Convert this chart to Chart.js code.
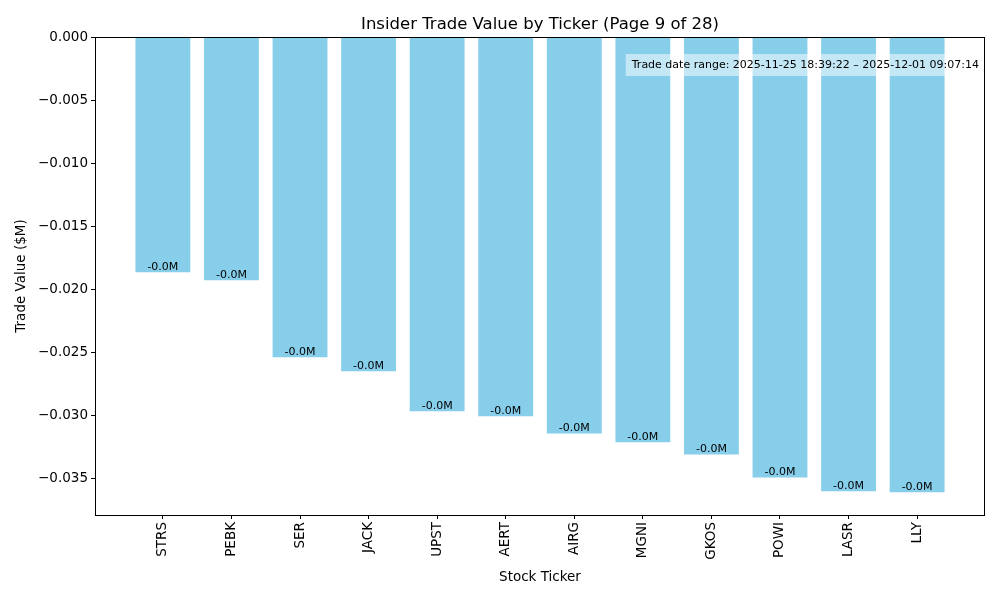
<!DOCTYPE html>
<html>
<head>
<meta charset="utf-8">
<script src="https://cdn.jsdelivr.net/npm/chart.js@4.4.0/dist/chart.umd.min.js"></script>
<style>
  html, body { margin: 0; padding: 0; background: #ffffff; }
  #wrap { width: 1000px; height: 600px; }
</style>
</head>
<body>
<div id="wrap"><canvas id="c" width="1000" height="600"></canvas></div>
<script>
const tickers = ["STRS", "PEBK", "SER", "JACK", "UPST", "AERT", "AIRG", "MGNI", "GKOS", "POWI", "LASR", "LLY"];
const tradeValues = [-0.01865, -0.01929, -0.02540, -0.02650, -0.02968, -0.03008, -0.03143, -0.03214, -0.03310, -0.03492, -0.03601, -0.03609];
const yTicks = [0, -0.005, -0.010, -0.015, -0.020, -0.025, -0.030, -0.035];
const titleText = "Insider Trade Value by Ticker (Page 9 of 28)";
const xLabel = "Stock Ticker";
const yLabel = "Trade Value ($M)";
const rangeText = "Trade date range: 2025-11-25 18:39:22 \u2013 2025-12-01 09:07:14";

const FONT = "'DejaVu Sans', sans-serif";

const decorPlugin = {
  id: 'decor',
  afterDatasetsDraw(chart) {
    const ctx = chart.ctx;
    const a = chart.chartArea;
    const meta = chart.getDatasetMeta(0);
    ctx.save();
    // value labels
    ctx.fillStyle = '#000';
    ctx.font = "11px " + FONT;
    ctx.textAlign = 'center';
    ctx.textBaseline = 'alphabetic';
    meta.data.forEach((bar, i) => {
      const v = tradeValues[i];
      const txt = v.toFixed(1) + 'M';
      ctx.fillText(txt, bar.x, bar.y - 2);
    });
    // annotation box
    ctx.font = "11px " + FONT;
    const tw = ctx.measureText(rangeText).width;
    const boxR = a.right - 1;
    const boxL = boxR - tw - 11;
    const boxT = 54, boxB = 76;
    ctx.fillStyle = 'rgba(255,255,255,0.5)';
    ctx.fillRect(boxL, boxT, boxR - boxL, boxB - boxT);
    ctx.fillStyle = '#000';
    ctx.textAlign = 'left';
    ctx.textBaseline = 'middle';
    ctx.fillText(rangeText, boxL + 6, (boxT + boxB) / 2 + 0.5);
    // spines
    ctx.strokeStyle = '#000';
    ctx.lineWidth = 1;
    ctx.strokeRect(Math.round(a.left) + 0.5, Math.round(a.top) + 0.5, Math.round(a.right - a.left) - 1, Math.round(a.bottom - a.top));
    // title
    ctx.font = "16.5px " + FONT;
    ctx.textAlign = 'center';
    ctx.textBaseline = 'alphabetic';
    ctx.fillText(titleText, (a.left + a.right) / 2, 29);
    // x label
    ctx.font = "13.5px " + FONT;
    ctx.textBaseline = 'middle';
    ctx.fillText(xLabel, (a.left + a.right) / 2, 577);
    // y label
    ctx.translate(21, (a.top + a.bottom) / 2);
    ctx.rotate(-Math.PI / 2);
    ctx.fillText(yLabel, 0, 0);
    ctx.restore();
  }
};

new Chart(document.getElementById('c'), {
  type: 'bar',
  data: {
    datasets: [{
      data: tickers.map((t, i) => ({ x: i, y: tradeValues[i] })),
      backgroundColor: '#87CEEB',
      borderWidth: 0,
      barPercentage: 0.8,
      categoryPercentage: 1.0
    }]
  },
  options: {
    responsive: false,
    animation: false,
    devicePixelRatio: 1,
    layout: { padding: { left: 0, right: 15, top: 37, bottom: 0 } },
    plugins: { legend: { display: false }, title: { display: false }, tooltip: { enabled: false } },
    scales: {
      x: {
        type: 'linear',
        offset: false,
        min: -0.99,
        max: tickers.length - 1 + 0.99,
        afterBuildTicks(axis) { axis.ticks = tickers.map((t, i) => ({ value: i })); },
        afterFit(axis) { axis.height = 85; },
        border: { display: false },
        grid: { offset: false, drawOnChartArea: false, drawTicks: true, tickLength: 4, color: '#000', tickWidth: 1 },
        ticks: {
          autoSkip: false,
          maxRotation: 90,
          minRotation: 90,
          padding: 3,
          color: '#000',
          font: { family: FONT, size: 13.5 },
          callback(v) { return tickers[v] !== undefined ? tickers[v] : ''; }
        }
      },
      y: {
        min: -0.0379,
        max: 0,
        afterBuildTicks(axis) { axis.ticks = yTicks.map(v => ({ value: v })); },
        afterFit(axis) { axis.width = 95; },
        border: { display: false },
        grid: { drawOnChartArea: false, drawTicks: true, tickLength: 4, color: '#000', tickWidth: 1 },
        ticks: {
          padding: 3,
          color: '#000',
          font: { family: FONT, size: 13.5 },
          callback(v) { return v.toFixed(3).replace('-', '\u2212'); }
        }
      }
    }
  },
  plugins: [decorPlugin]
});
</script>
</body>
</html>
